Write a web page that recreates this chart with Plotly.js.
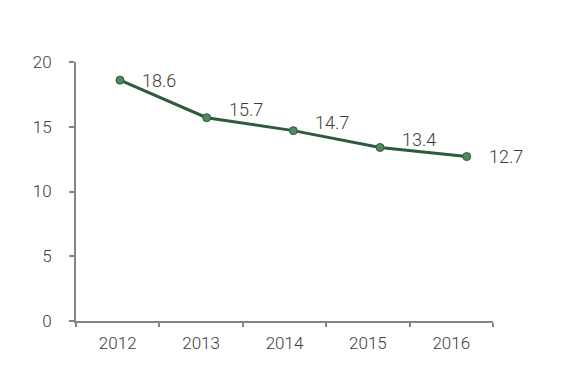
<!DOCTYPE html>
<html>
<head>
<meta charset="utf-8">
<script src="https://cdn.plot.ly/plotly-3.0.1.min.js"></script>
<style>html,body{margin:0;padding:0;background:#fff;}#chart{width:580px;height:373px;}</style>
</head>
<body>
<div id="chart"></div>
<script>
var years = ['2012', '2013', '2014', '2015', '2016'];
var values = [18.6, 15.7, 14.7, 13.4, 12.7];
var yTicks = [0, 5, 10, 15, 20];

var idx = years.map(function (_, i) { return i; });
var labelYShift = [0, 8, 8, 8, 0];
var FONT = 'Roboto, Liberation Sans, sans-serif';

var annotations = values.map(function (v, i) {
  return {
    x: idx[i], y: v, xref: 'x', yref: 'y',
    text: v.toFixed(1), showarrow: false,
    xanchor: 'left', yanchor: 'middle',
    xshift: 20, yshift: labelYShift[i],
    font: {family: FONT, size: 18, color: '#3c3c3c', weight: 300}
  };
});

var line = {
  x: idx, y: values, type: 'scatter', mode: 'lines+markers',
  xaxis: 'x', yaxis: 'y',
  line: {color: '#2e5a3e', width: 3},
  marker: {color: '#4f8a5a', size: 8, line: {color: '#2e5a3e', width: 1}},
  hoverinfo: 'none'
};

// invisible trace that defines the category axis carrying the tick labels
var cats = {
  x: years, y: values, type: 'scatter', mode: 'markers',
  xaxis: 'x2', yaxis: 'y',
  marker: {opacity: 0}, hoverinfo: 'none'
};

var layout = {
  width: 580, height: 373,
  margin: {l: 76, r: 87, t: 62, b: 52},
  paper_bgcolor: '#fff', plot_bgcolor: '#fff',
  showlegend: false,
  font: {family: FONT, size: 17, color: '#3c3c3c', weight: 300},
  xaxis: {
    range: [-0.5075, 4.303], visible: false, showgrid: false, zeroline: false
  },
  xaxis2: {
    type: 'category', range: [-0.5, 4.5], tickson: 'boundaries',
    overlaying: 'x', anchor: 'y', side: 'bottom',
    showline: true, linecolor: '#858585', linewidth: 2,
    ticks: 'outside', ticklen: 4, tickwidth: 2, tickcolor: '#858585',
    showgrid: false, zeroline: false, ticklabelstandoff: 6,
    tickfont: {family: FONT, size: 17, color: '#3c3c3c', weight: 300}
  },
  yaxis: {
    range: [0, 20], tickvals: yTicks, ticktext: yTicks.map(String),
    showline: true, linecolor: '#858585', linewidth: 2,
    ticks: 'outside', ticklen: 5, tickwidth: 2, tickcolor: '#858585',
    showgrid: false, zeroline: false, ticklabelstandoff: 14,
    tickfont: {family: FONT, size: 17, color: '#3c3c3c', weight: 300}
  },
  annotations: annotations
};

Plotly.newPlot('chart', [cats, line], layout, {displayModeBar: false, staticPlot: true});
</script>
</body>
</html>
